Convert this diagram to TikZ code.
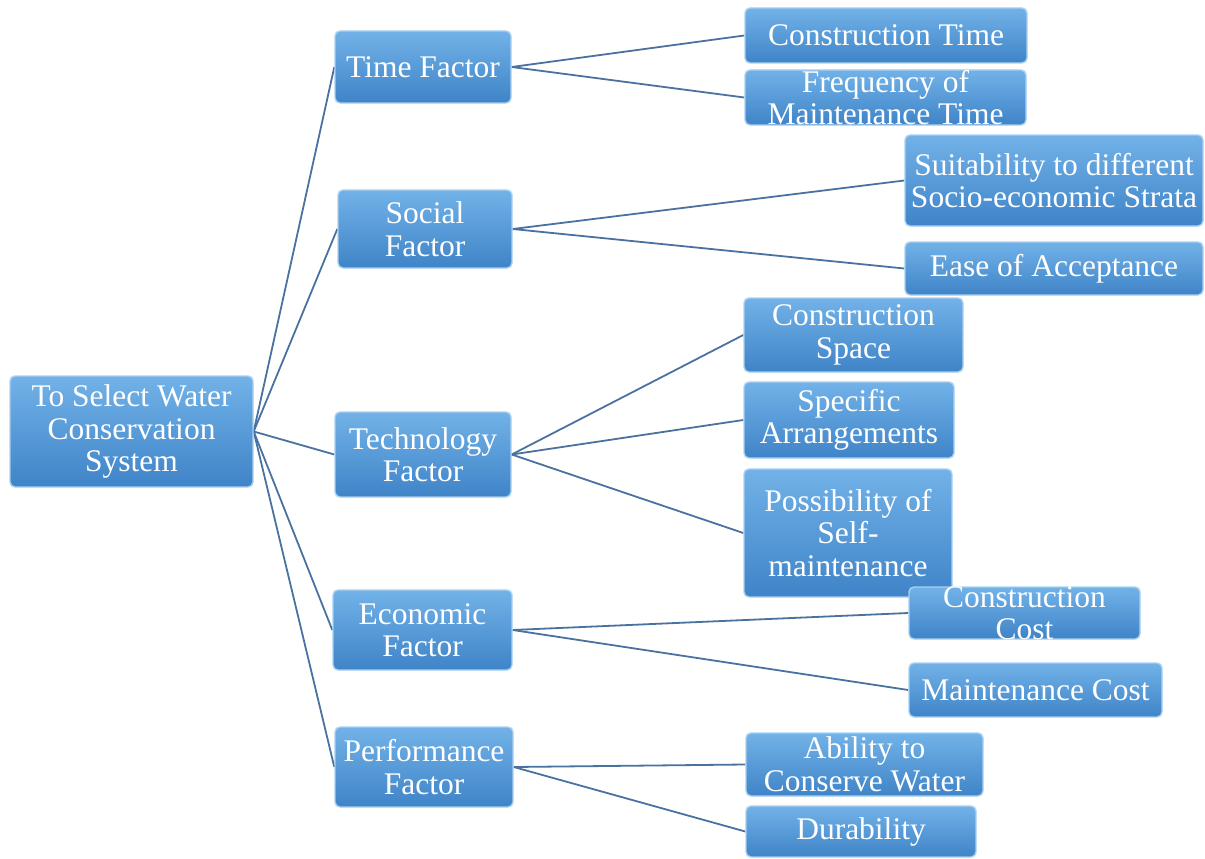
\documentclass[tikz,border=0pt]{standalone}
\usepackage{fontspec}
\setmainfont{Liberation Serif}
\usetikzlibrary{backgrounds}
\definecolor{boxtop}{HTML}{72B2E8}
\definecolor{boxbot}{HTML}{3F84C8}
\definecolor{boxedge}{HTML}{A8D0F0}
\definecolor{linkcol}{HTML}{4A72A0}
\tikzset{
  box/.style={rectangle, rounded corners=5pt, top color=boxtop, bottom color=boxbot,
    draw=boxedge, line width=1.4pt, inner sep=0pt},
  txt/.style={text=white, align=center, inner sep=0pt,
    font=\fontsize{31.5}{32.5}\selectfont},
  link/.style={draw=linkcol, line width=1.8pt}
}
\newcommand{\mybox}[7]{% name, x1, y1, x2, y2, text
  \node[box, minimum width=#4-#2, minimum height=#5-#3] (#1) at ({(#2+#4)/2},{(#3+#5)/2}) {};
  \node[txt] (#1-t) at (#1.center) {#6};
}
\begin{document}
\begin{tikzpicture}[x=1pt,y=-1pt]
\useasboundingbox (0,0) rectangle (1205,859);
\mybox{root}{10}{376}{253}{487}{To Select Water\\Conservation\\System}{}
\mybox{time}{335}{31}{511}{103}{Time Factor}{}
\mybox{social}{338}{190}{512}{268}{Social\\Factor}{}
\mybox{tech}{335}{412}{511}{497}{Technology\\Factor}{}
\mybox{econ}{333}{590}{512}{670}{Economic\\Factor}{}
\mybox{perf}{335}{727}{513}{807}{Performance\\Factor}{}
\mybox{ct}{745}{8}{1027}{63}{Construction Time}{}
\mybox{fm}{745}{70}{1026}{125}{Frequency of\\Maintenance Time}{}
\mybox{su}{905}{135}{1203}{226}{Suitability to different\\Socio-economic Strata}{}
\mybox{ea}{905}{242}{1203}{295}{Ease of Acceptance}{}
\mybox{cs}{744}{298}{963}{372}{Construction\\Space}{}
\mybox{sa}{744}{382}{954}{458}{Specific\\Arrangements}{}
\mybox{ps}{744}{469}{952}{597}{Possibility of\\Self-\\maintenance}{}
\mybox{cc}{909}{587}{1140}{639}{Construction\\Cost}{}
\mybox{mc}{909}{663}{1162}{717}{Maintenance Cost}{}
\mybox{ac}{746}{733}{983}{796}{Ability to\\Conserve Water}{}
\mybox{du}{746}{806}{976}{857}{Durability}{}
\begin{pgfonlayer}{background}
\foreach \f in {time,social,tech,econ,perf}
  \draw[link] (root.east) -- (\f.west);
\draw[link] (time.east) -- (ct.west);
\draw[link] (time.east) -- (fm.west);
\draw[link] (social.east) -- (su.west);
\draw[link] (social.east) -- (ea.west);
\draw[link] (tech.east) -- (cs.west);
\draw[link] (tech.east) -- (sa.west);
\draw[link] (tech.east) -- (ps.west);
\draw[link] (econ.east) -- (cc.west);
\draw[link] (econ.east) -- (mc.west);
\draw[link] (perf.east) -- (ac.west);
\draw[link] (perf.east) -- (du.west);
\end{pgfonlayer}
\end{tikzpicture}
\end{document}
